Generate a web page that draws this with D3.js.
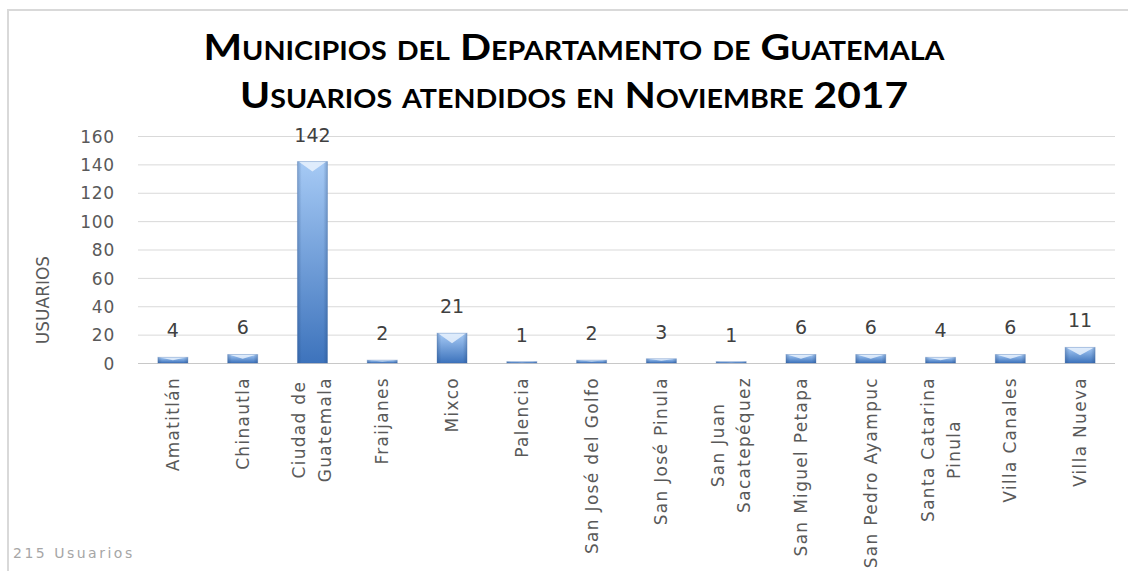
<!DOCTYPE html>
<html>
<head>
<meta charset="utf-8">
<script src="https://cdn.jsdelivr.net/npm/d3@7/dist/d3.min.js"></script>
<style>
  body{margin:0;background:#fff;}
  svg{display:block;}
</style>
</head>
<body>
<svg id="chart"></svg>
<script>
const categories = ["Amatitlán","Chinautla","Ciudad de Guatemala","Fraijanes","Mixco","Palencia",
  "San José del Golfo","San José Pinula","San Juan Sacatepéquez","San Miguel Petapa",
  "San Pedro Ayampuc","Santa Catarina Pinula","Villa Canales","Villa Nueva"];
const labelLines = [["Amatitlán"],["Chinautla"],["Ciudad de","Guatemala"],["Fraijanes"],["Mixco"],["Palencia"],
  ["San José del Golfo"],["San José Pinula"],["San Juan","Sacatepéquez"],["San Miguel Petapa"],
  ["San Pedro Ayampuc"],["Santa Catarina","Pinula"],["Villa Canales"],["Villa Nueva"]];
const values = [4,6,142,2,21,1,2,3,1,6,6,4,6,11];
const yTicks = [0,20,40,60,80,100,120,140,160];
const titleLines = ["Municipios del Departamento  de Guatemala","Usuarios atendidos en Noviembre 2017"];
const yTitle = "USUARIOS";
const footer = "215 Usuarios";

const W = 1128, H = 571;
const svg = d3.select("#chart").attr("width", W).attr("height", H);
const AXIS_FONT = "'DejaVu Sans', sans-serif";

// chart frame
svg.append("path")
  .attr("d", "M8,571 L8,10 L1128,10")
  .attr("fill","none").attr("stroke","#d9d9d9").attr("stroke-width",2);

const x = d3.scaleBand().domain(categories).range([138,1115]).paddingInner(0.57).paddingOuter(0.285);
const y = d3.scaleLinear().domain([0,160]).range([363,136]);

// gradients
const defs = svg.append("defs");
const gv = defs.append("linearGradient").attr("id","barV").attr("x1",0).attr("y1",0).attr("x2",0).attr("y2",1);
gv.append("stop").attr("offset","0%").attr("stop-color","#a6caf5");
gv.append("stop").attr("offset","100%").attr("stop-color","#3d73bc");
const gh = defs.append("linearGradient").attr("id","barH").attr("x1",0).attr("y1",0).attr("x2",1).attr("y2",0);
gh.append("stop").attr("offset","0%").attr("stop-color","#1d3f70").attr("stop-opacity",0.3);
gh.append("stop").attr("offset","14%").attr("stop-color","#1d3f70").attr("stop-opacity",0);
gh.append("stop").attr("offset","86%").attr("stop-color","#1d3f70").attr("stop-opacity",0);
gh.append("stop").attr("offset","100%").attr("stop-color","#1d3f70").attr("stop-opacity",0.3);

// grid + y axis
const yAxis = svg.append("g").attr("transform","translate(138,0)")
  .call(d3.axisLeft(y).tickValues(yTicks).tickSize(-(1115-138)).tickPadding(23));
yAxis.select(".domain").remove();
yAxis.selectAll(".tick line").attr("stroke", d => d === 0 ? "#c8c8c8" : "#d9d9d9");
yAxis.selectAll(".tick text")
  .attr("font-family", AXIS_FONT).attr("font-size", 17).attr("fill","#595959")
  .attr("letter-spacing", 0.8).attr("dy","0.36em");

// bars
const bars = svg.append("g").selectAll("g").data(values).enter().append("g")
  .attr("transform", (d,i) => "translate(" + x(categories[i]) + ",0)");
const bw = x.bandwidth();
bars.append("rect").attr("x",0).attr("y", d => y(d)).attr("width", bw)
  .attr("height", d => y(0) - y(d)).attr("fill","url(#barV)");
bars.append("rect").attr("x",0).attr("y", d => y(d)).attr("width", bw)
  .attr("height", d => y(0) - y(d)).attr("fill","url(#barH)");
bars.append("path")
  .attr("d", d => {
    const t = y(d), b = Math.min(10, (y(0) - y(d)) * 0.5);
    return "M1," + t + " L" + (bw-1) + "," + t + " L" + (bw/2) + "," + (t+b) + "Z";
  })
  .attr("fill","#eef5fe").attr("opacity",0.8);
bars.append("rect").attr("x",0).attr("y", d => y(d)).attr("width", bw)
  .attr("height", d => y(0) - y(d)).attr("fill","none")
  .attr("stroke","#3a67a6").attr("stroke-opacity",0.3).attr("stroke-width",1);

// data labels
svg.append("g").selectAll("text").data(values).enter().append("text")
  .attr("x", (d,i) => x(categories[i]) + bw/2)
  .attr("y", d => y(d) - 20)
  .attr("text-anchor","middle")
  .attr("font-family", AXIS_FONT).attr("font-size", 19).attr("fill","#404040")
  .text(d => d);

// category labels (rotated, centred lines, top anchored)
const LINE_GAP = 26;
labelLines.forEach((lines, i) => {
  const cx = x(categories[i]) + bw/2;
  const g = svg.append("g");
  const texts = lines.map((ln, j) => g.append("text")
    .attr("font-family", AXIS_FONT).attr("font-size", 17).attr("fill","#595959")
    .attr("letter-spacing", 1.3).attr("text-anchor","middle")
    .text(ln));
  const maxW = d3.max(texts, t => t.node().getComputedTextLength());
  const cy = 377 + maxW/2;
  texts.forEach((t, j) => {
    const off = 6 + (j - (lines.length-1)/2) * LINE_GAP;
    t.attr("transform", "translate(" + (cx + off) + "," + cy + ") rotate(-90)");
  });
});

// y title
svg.append("text")
  .attr("transform","translate(49,300) rotate(-90)")
  .attr("text-anchor","middle")
  .attr("font-family", AXIS_FONT).attr("font-size", 17).attr("fill","#595959")
  .text(yTitle);

// chart title
const titleW = [741, 668];
titleLines.forEach((t, i) => {
  svg.append("text")
    .attr("x", 574).attr("y", 60 + i*48)
    .attr("text-anchor","middle")
    .attr("font-family","Lato, 'Open Sans', sans-serif")
    .attr("font-weight","bold").attr("font-size", 37)
    .style("font-variant","small-caps")
    .attr("fill","#000")
    .attr("textLength", titleW[i]).attr("lengthAdjust","spacingAndGlyphs")
    .text(t);
});

// footer
svg.append("text")
  .attr("x", 13).attr("y", 558)
  .attr("font-family", AXIS_FONT).attr("font-size", 14).attr("fill","#a6a6a6")
  .attr("letter-spacing", 2.5)
  .text(footer);
</script>
</body>
</html>
